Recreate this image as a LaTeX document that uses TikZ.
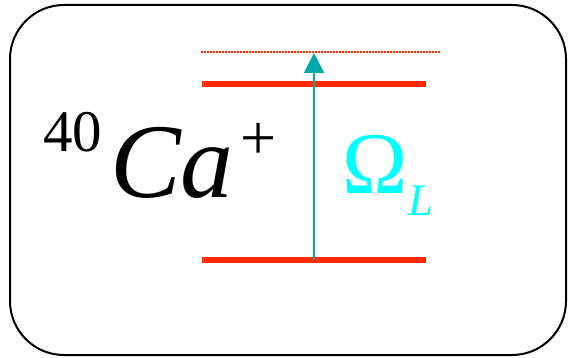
\documentclass[tikz,border=0pt]{standalone}
\usepackage{fontspec}
\setmainfont{Liberation Serif}
\usetikzlibrary{arrows.meta}
\definecolor{lvred}{HTML}{FF2A00}
\definecolor{teal2}{HTML}{00AAAA}
\definecolor{cyn}{HTML}{00FFFF}
\tikzset{
  level/.style={draw=lvred, line width=6pt},
  virt/.style={draw=lvred, line width=1.5pt, dash pattern=on 1.5pt off 1.5pt},
  laser/.style={draw=teal2, line width=2pt, -{Triangle[width=20pt,length=20pt]}},
  txt/.style={inner sep=0pt, outer sep=0pt, anchor=base west},
  frame/.style={draw=black, line width=2pt, rounded corners=54pt}
}
\begin{document}
\begin{tikzpicture}[x=1pt,y=-1pt]
\useasboundingbox (0,0) rectangle (568,358);
\draw[frame] (10,5) rectangle (566,355);
% levels
\coordinate (vl) at (201,52); \coordinate (vr) at (441,52);
\coordinate (el) at (202,84); \coordinate (er) at (426,84);
\coordinate (gl) at (202,260); \coordinate (gr) at (426,260);
\draw[virt] (vl) -- (vr);
\draw[level] (el) -- (er);
\draw[level] (gl) -- (gr);
% laser arrow
\coordinate (a0) at (314,260);
\coordinate (a1) at (314,53);
\draw[laser] (a0) -- (a1);
% labels
\node[txt, font=\fontsize{59}{59}\selectfont] (mass) at (43,152) {40};
\node[txt, font=\fontsize{106}{106}\selectfont\itshape] (ca) at (110,198) {Ca};
\node[txt, font=\fontsize{64}{64}\selectfont] (plus) at (240,160) {+};
\node[txt, font=\fontsize{88}{88}\selectfont, text=cyn] (om) at (342,194) {Ω};
\node[txt, font=\fontsize{45}{45}\selectfont\itshape, text=cyn] (L) at (408,216) {L};
\end{tikzpicture}
\end{document}
